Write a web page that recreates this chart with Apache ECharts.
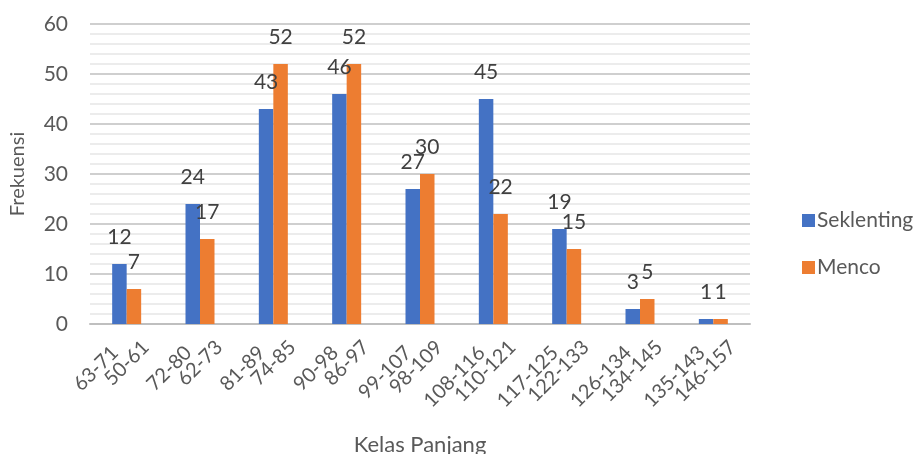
<!DOCTYPE html>
<html>
<head>
<meta charset="utf-8">
<script src="https://cdn.jsdelivr.net/npm/echarts@6/dist/echarts.min.js"></script>
<style>
    html, body { margin: 0; padding: 0; background: #fff; }
    #chart { width: 920px; height: 454px; }
</style>
</head>
<body>
<div id="chart"></div>
<script>
// kelas panjang: baris atas Seklenting, baris bawah Menco
const kelasSeklenting = ['63-71', '72-80', '81-89', '90-98', '99-107', '108-116', '117-125', '126-134', '135-143']
const kelasMenco = ['50-61', '62-73', '74-85', '86-97', '98-109', '110-121', '122-133', '134-145', '146-157']
const seklenting = [12, 24, 43, 46, 27, 45, 19, 3, 1]
const menco = [7, 17, 52, 52, 30, 22, 15, 5, 1]

const font = 'Lato'
const textColor = '#595959'

const chart = echarts.init(document.getElementById('chart'))

const barLabel = {
    show: true,
    position: 'top',
    distance: 16,
    fontFamily: font,
    fontSize: 21,
    color: '#404040'
}

chart.setOption({
    animation: false,
    textStyle: { fontFamily: font },
    grid: {
        left: 90,
        right: 170,
        top: 24,
        bottom: 130,
        outerBoundsMode: 'none'
    },
    legend: {
        orient: 'vertical',
        left: 797,
        top: 205,
        itemWidth: 13,
        itemHeight: 13,
        itemGap: 26,
        icon: 'rect',
        textStyle: {
            fontFamily: font,
            fontSize: 21,
            color: textColor,
            padding: [0, 0, 0, -3]
        },
        data: ['Seklenting', 'Menco']
    },
    xAxis: {
        type: 'category',
        data: kelasSeklenting,
        name: 'Kelas Panjang',
        nameLocation: 'middle',
        nameGap: 110,
        nameTextStyle: {
            fontFamily: font,
            fontSize: 22,
            color: textColor
        },
        axisLine: { lineStyle: { color: '#bfbfbf', width: 2 } },
        axisTick: { show: false },
        axisLabel: {
            interval: 0,
            rotate: 45,
            align: 'right',
            verticalAlign: 'top',
            fontFamily: font,
            fontSize: 20,
            lineHeight: 18,
            color: textColor,
            margin: 1,
            // baris pertama digeser sedikit seperti di Excel
            formatter: (v, i) => v + '\u00a0'.repeat(5) + '\n' + kelasMenco[i]
        }
    },
    yAxis: {
        type: 'value',
        min: 0,
        max: 60,
        interval: 10,
        name: 'Frekuensi',
        nameLocation: 'middle',
        nameGap: 62,
        nameTextStyle: {
            fontFamily: font,
            fontSize: 20,
            color: textColor
        },
        axisLine: { show: false },
        axisTick: { show: false },
        axisLabel: {
            fontFamily: font,
            fontSize: 21,
            color: textColor,
            margin: 22
        },
        splitLine: { lineStyle: { color: '#cfcfcf', width: 2 } },
        minorTick: { show: false, splitNumber: 5 },
        minorSplitLine: { show: true, lineStyle: { color: '#e6e6e6', width: 1.5 } }
    },
    series: [
        {
            name: 'Seklenting',
            type: 'bar',
            data: seklenting,
            barWidth: 14.5,
            barGap: '0%',
            itemStyle: { color: '#4472C4' },
            label: barLabel
        },
        {
            name: 'Menco',
            type: 'bar',
            data: menco,
            barWidth: 14.5,
            barGap: '0%',
            itemStyle: { color: '#ED7D31' },
            label: barLabel
        }
    ]
})
</script>
</body>
</html>
